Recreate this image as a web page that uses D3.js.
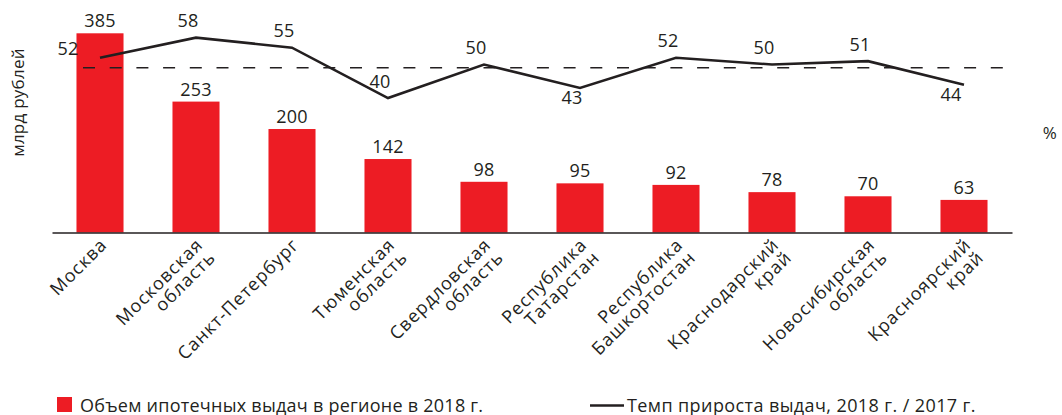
<!DOCTYPE html>
<html>
<head>
<meta charset="utf-8">
<script src="https://cdn.jsdelivr.net/npm/d3@7"></script>
<style>
  html, body { margin: 0; padding: 0; background: #fff; }
  svg { display: block; }
  text { font-family: "Open Sans", "Noto Sans", sans-serif; fill: #231f20; letter-spacing: 0.25px; }
  text.cat { letter-spacing: 1px; }
</style>
</head>
<body>
<svg id="chart" width="1062" height="415"></svg>
<script>
// ---- data ----
const categories = [
  ["Москва"],
  ["Московская", "область"],
  ["Санкт-Петербург"],
  ["Тюменская", "область"],
  ["Свердловская", "область"],
  ["Республика", "Татарстан"],
  ["Республика", "Башкортостан"],
  ["Краснодарский", "край"],
  ["Новосибирская", "область"],
  ["Красноярский", "край"]
];
const volumes = [385, 253, 200, 142, 98, 95, 92, 78, 70, 63];
const growth = [52, 58, 55, 40, 50, 43, 52, 50, 51, 44];
const averageGrowth = 49;
const yAxisTitle = "млрд рублей";
const y2AxisTitle = "%";
const legendBars = "Объем ипотечных выдач в регионе в 2018 г.";
const legendLine = "Темп прироста выдач, 2018 г. / 2017 г.";

// label placement for growth values (layout)
const growthLabelPlacement = ["left", "above", "above", "above", "above", "below", "above", "above", "above", "below"];

// ---- drawing ----
const RED = "#ed1c24";
const DARK = "#231f20";
const FS = 18;

const svg = d3.select("#chart");
const baseY = 232.5;

const x = d3.scaleBand()
  .domain(d3.range(categories.length))
  .range([52, 1012])
  .paddingInner(0.51)
  .paddingOuter(0.255);

const y = d3.scaleLinear().domain([0, 385]).range([baseY, 33.3]);
const y2 = d3.scaleLinear().domain([0, 60]).range([baseY, baseY - 60 * 3.36]);

// bars
svg.append("g").selectAll("rect")
  .data(volumes)
  .join("rect")
  .attr("x", (d, i) => x(i))
  .attr("y", d => y(d))
  .attr("width", x.bandwidth())
  .attr("height", d => y(0) - y(d))
  .attr("fill", RED);

// bar labels
svg.append("g").selectAll("text")
  .data(volumes)
  .join("text")
  .attr("x", (d, i) => x(i) + x.bandwidth() / 2)
  .attr("y", d => y(d) - 6)
  .attr("text-anchor", "middle")
  .attr("font-size", FS)
  .text(d => d);

// x axis (baseline)
const xAxis = d3.axisBottom(x).tickSize(0).tickFormat("");
const gx = svg.append("g")
  .attr("transform", `translate(0,${baseY})`)
  .call(xAxis);
gx.select(".domain").attr("stroke", DARK).attr("stroke-width", 1.3);

// category labels
const catG = svg.append("g");
categories.forEach((lines, i) => {
  const cx = x(i) + x.bandwidth() / 2;
  const t = catG.append("text")
    .attr("class", "cat")
    .attr("transform", `translate(${cx + 8},${246}) rotate(-45)`)
    .attr("text-anchor", "end")
    .attr("font-size", FS);
  lines.forEach((ln, j) => {
    t.append("tspan")
      .attr("x", 0)
      .attr("dy", j === 0 ? 0 : "1.0em")
      .text(ln);
  });
});

// average dashed line
svg.append("line")
  .attr("x1", 83)
  .attr("x2", 1004)
  .attr("y1", y2(averageGrowth))
  .attr("y2", y2(averageGrowth))
  .attr("stroke", DARK)
  .attr("stroke-width", 1.5)
  .attr("stroke-dasharray", "12,14.7");

// growth line
const line = d3.line()
  .x((d, i) => x(i) + x.bandwidth() / 2)
  .y(d => y2(d));
svg.append("path")
  .datum(growth)
  .attr("d", line)
  .attr("fill", "none")
  .attr("stroke", DARK)
  .attr("stroke-width", 2.6)
  .attr("stroke-linejoin", "miter");

// growth labels
svg.append("g").selectAll("text")
  .data(growth)
  .join("text")
  .attr("x", (d, i) => {
    const cx = x(i) + x.bandwidth() / 2;
    const p = growthLabelPlacement[i];
    if (p === "left") return cx - 32;
    if (p === "below" && i === growth.length - 1) return cx - 13;
    return cx - 8;
  })
  .attr("y", (d, i) => {
    const p = growthLabelPlacement[i];
    const py = y2(d);
    if (p === "left") return py - 2.5;
    if (p === "below") return py + 16;
    return py - 10.5;
  })
  .attr("text-anchor", "middle")
  .attr("font-size", FS)
  .text(d => d);

// axis titles
svg.append("text")
  .attr("transform", `translate(24,102.5) rotate(-90)`)
  .attr("text-anchor", "middle")
  .attr("font-size", 17)
  .text(yAxisTitle);

svg.append("text")
  .attr("x", 1050)
  .attr("y", 139)
  .attr("text-anchor", "middle")
  .attr("font-size", 17)
  .text(y2AxisTitle);

// legend
svg.append("rect")
  .attr("x", 57).attr("y", 397)
  .attr("width", 15).attr("height", 15)
  .attr("fill", RED);
svg.append("text")
  .attr("x", 80).attr("y", 411.5)
  .attr("font-size", FS)
  .text(legendBars);

svg.append("line")
  .attr("x1", 590).attr("x2", 624)
  .attr("y1", 405.5).attr("y2", 405.5)
  .attr("stroke", DARK).attr("stroke-width", 2.6);
svg.append("text")
  .attr("x", 627).attr("y", 411.5)
  .attr("font-size", FS)
  .style("letter-spacing", "0.4px")
  .text(legendLine);
</script>
</body>
</html>
